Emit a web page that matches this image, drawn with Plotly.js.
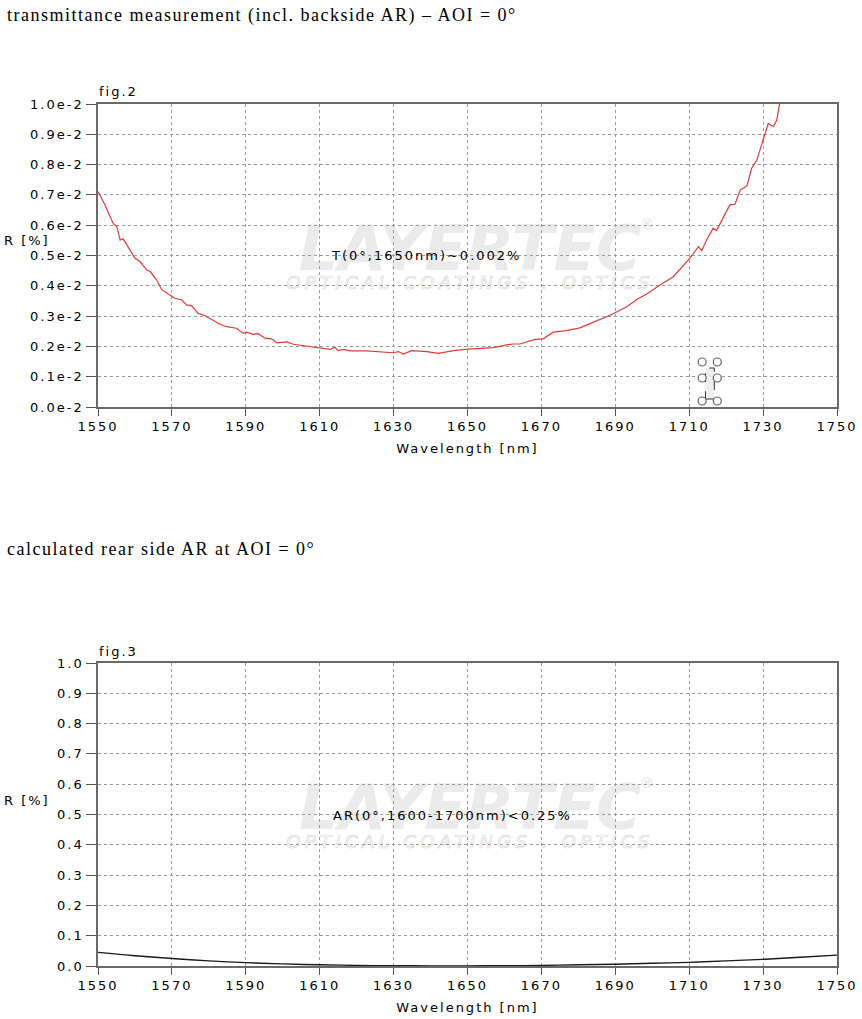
<!DOCTYPE html>
<html>
<head>
<meta charset="utf-8">
<script src="https://cdn.plot.ly/plotly-3.0.1.min.js"></script>
<style>
html,body{margin:0;padding:0;background:#fff;}
#chart{width:862px;height:1019px;}
/* imitates the horizontally stretched lettering of the reference */
svg text[style*="DejaVu"]{letter-spacing:2px;}
svg text[style*="Liberation Serif"]{letter-spacing:1.5px;}
</style>
</head>
<body>
<div id="chart"></div>
<script>
// ---- data ----
const wlT = [1550,1551.9,1554.1,1555.1,1556.0,1556.8,1560.0,1561.4,1563.2,1564.1,1565.9,1567.2,1569.0,1570.8,1572.7,1574.0,1575.4,1577.1,1579.0,1581.2,1583.0,1584.8,1587.5,1589.3,1590.2,1592.0,1593.4,1595.2,1597.0,1598.4,1601.1,1602.9,1606.5,1610.1,1612.8,1614.1,1615.0,1616.4,1618.2,1622.7,1626.3,1629.9,1631.3,1632.6,1634.9,1639.0,1642.1,1646.2,1650.2,1653.4,1657.0,1660.6,1662.4,1664.2,1668.3,1670.5,1673.2,1676.8,1680.4,1684.1,1688.6,1693.1,1695.8,1698.5,1702.1,1705.7,1710.2,1712.5,1713.4,1714.7,1716.5,1717.4,1721.0,1722.4,1723.8,1725.6,1726.9,1728.3,1730.1,1731.4,1732.8,1733.7,1734.4,1735.5];
const valT = [0.00711,0.00667,0.00606,0.00595,0.00551,0.00555,0.00491,0.00480,0.00452,0.00447,0.00419,0.00388,0.00373,0.00359,0.00353,0.00337,0.00334,0.00309,0.00301,0.00285,0.00273,0.00265,0.00260,0.00243,0.00247,0.00240,0.00242,0.00227,0.00225,0.00212,0.00215,0.00207,0.00201,0.00196,0.00190,0.00197,0.00186,0.00190,0.00185,0.00185,0.00182,0.00179,0.00183,0.00175,0.00186,0.00183,0.00177,0.00186,0.00191,0.00194,0.00196,0.00205,0.00208,0.00208,0.00223,0.00225,0.00247,0.00252,0.00261,0.00280,0.00303,0.00331,0.00355,0.00373,0.00403,0.00430,0.00491,0.00529,0.00516,0.00551,0.00590,0.00582,0.00667,0.00669,0.00716,0.00729,0.00788,0.00815,0.00881,0.00936,0.00925,0.00947,0.00997,0.0105];

const wlAR = [1550,1560,1570,1580,1590,1600,1610,1620,1630,1640,1650,1660,1670,1680,1690,1700,1710,1720,1730,1740,1750];
const valAR = [0.045,0.034,0.025,0.017,0.011,0.007,0.004,0.002,0.001,0.0005,0.0005,0.001,0.002,0.004,0.006,0.009,0.012,0.017,0.022,0.029,0.036];

const xTicks = [1550,1570,1590,1610,1630,1650,1670,1690,1710,1730,1750];
const yTicksT = [0,0.001,0.002,0.003,0.004,0.005,0.006,0.007,0.008,0.009,0.010];
const yLabelsT = ["0.0e-2","0.1e-2","0.2e-2","0.3e-2","0.4e-2","0.5e-2","0.6e-2","0.7e-2","0.8e-2","0.9e-2","1.0e-2"];
const yTicksAR = [0,0.1,0.2,0.3,0.4,0.5,0.6,0.7,0.8,0.9,1.0];
const yLabelsAR = ["0.0","0.1","0.2","0.3","0.4","0.5","0.6","0.7","0.8","0.9","1.0"];

const title1 = "transmittance measurement (incl. backside AR) \u2013 AOI = 0\u00b0";
const title2 = "calculated rear side AR at AOI = 0\u00b0";
const noteT = "T(0\u00b0,1650nm)~0.002%";
const noteAR = "AR(0\u00b0,1600-1700nm)<0.25%";

// ---- layout helpers ----
const W = 862, H = 1019;
const px = v => v / W;
const py = v => 1 - v / H;
const sans = "DejaVu Sans, Arial, sans-serif";
const serif = "Liberation Serif, Times New Roman, serif";

function xax(anchor){
  return {anchor:anchor, domain:[px(98), px(837)], range:[1550,1750], tickmode:'array', tickvals:xTicks,
    ticktext:xTicks.map(String), ticks:'outside', ticklen:7, tickcolor:'#555', tickwidth:1,
    showline:true, linecolor:'#6a6a6a', linewidth:1.7, mirror:true, zeroline:false,
    showgrid:true, gridcolor:'#9a9a9a', gridwidth:1, griddash:'dot',
    tickfont:{family:sans, size:13, color:'#000'},
    title:{text:'Wavelength [nm]', font:{family:sans, size:13, color:'#000'}, standoff:10}};
}
function yax(dom, vals, labels, rng){
  return {domain:dom, range:rng, tickmode:'array', tickvals:vals, ticktext:labels, ticks:'outside', ticklen:10,
    tickcolor:'#555', tickwidth:1, showline:true, linecolor:'#6a6a6a', linewidth:1.7, mirror:true,
    zeroline:false, showgrid:true, gridcolor:'#9a9a9a', gridwidth:1, griddash:'dot',
    tickfont:{family:sans, size:13, color:'#000'}};
}

// watermark logo (an image, as in the reference)
const logoSvg = "<svg xmlns='http://www.w3.org/2000/svg' width='380' height='80' viewBox='0 0 380 80'>"
  + "<text x='190' y='54' text-anchor='middle' font-family='DejaVu Sans' font-weight='bold' font-style='italic' font-size='62' fill='#ebebeb'>LAYERTEC</text>"
  + "<text x='360' y='13' font-family='DejaVu Sans' font-size='14' fill='#e2e2e2'>\u00ae</text>"
  + "<text x='190' y='73' text-anchor='middle' font-family='DejaVu Sans' font-style='italic' font-size='18' letter-spacing='4.4' fill='none' stroke='#d8d8d8' stroke-width='0.7'>OPTICAL COATINGS . OPTICS</text>"
  + "</svg>";
const logoSrc = "data:image/svg+xml;charset=utf-8," + encodeURIComponent(logoSvg);

const anns = [];
const images = [];
anns.push({xref:'paper', yref:'paper', x:px(5), y:py(15), xanchor:'left', yanchor:'middle', showarrow:false,
  text:title1, font:{family:serif, size:18, color:'#000'}});
anns.push({xref:'paper', yref:'paper', x:px(5), y:py(549), xanchor:'left', yanchor:'middle', showarrow:false,
  text:title2, font:{family:serif, size:18, color:'#000'}});

[[104,'fig.2',240,noteT,426],[663,'fig.3',800,noteAR,452]].forEach(([top,fig,ry,note,nx])=>{
  images.push({source:logoSrc, xref:'paper', yref:'paper', x:px(280), y:py(top+112), sizex:380/W, sizey:80/H,
    xanchor:'left', yanchor:'top', sizing:'stretch', layer:'below'});
  anns.push({xref:'paper', yref:'paper', x:px(97), y:py(top-12), xanchor:'left', yanchor:'middle', showarrow:false,
    text:fig, font:{family:sans, size:13, color:'#000'}});
  anns.push({xref:'paper', yref:'paper', x:px(2), y:py(ry), xanchor:'left', yanchor:'middle', showarrow:false,
    text:'R [%]', font:{family:sans, size:13, color:'#000'}});
  anns.push({xref:'paper', yref:'paper', x:px(nx), y:py(top+152), xanchor:'center', yanchor:'middle', showarrow:false,
    text:note, font:{family:sans, size:13, color:'#000'}});
});

// selection-handle artefact near 1715 nm in fig.2
const shapes = [];
shapes.push({type:'rect', xref:'x', yref:'y', x0:1714.4, x1:1716.8, y0:0.000264, y1:0.001287,
  fillcolor:'#eeeeee', line:{color:'#333', width:1, dash:'dash'}, layer:'above'});
[[1713.5,0.001485],[1717.6,0.001485],[1713.5,0.000957],[1717.6,0.000957],[1713.5,0.000198],[1717.6,0.000198]].forEach(([cx,cy])=>{
  shapes.push({type:'circle', xref:'x', yref:'y', xsizemode:'pixel', ysizemode:'pixel', xanchor:cx, yanchor:cy,
    x0:-4, x1:4, y0:-4, y1:4, fillcolor:'#ffffff', line:{color:'#5a6474', width:1.2}, layer:'above'});
});

const traces = [
  {x:wlT, y:valT, xaxis:'x', yaxis:'y', mode:'lines', line:{color:'#e23a3a', width:1.2}, hoverinfo:'x+y'},
  {x:wlAR, y:valAR, xaxis:'x2', yaxis:'y2', mode:'lines', line:{color:'#1a1a1a', width:1.4, shape:'spline'}, hoverinfo:'x+y'}
];

const layout = {
  width:W, height:H, margin:{l:0, r:0, t:0, b:0}, showlegend:false,
  paper_bgcolor:'#fff', plot_bgcolor:'rgba(0,0,0,0)',
  xaxis:xax('y'), yaxis:yax([py(407), py(104)], yTicksT, yLabelsT, [0,0.01]),
  xaxis2:xax('y2'), yaxis2:yax([py(966), py(663)], yTicksAR, yLabelsAR, [0,1]),
  annotations:anns, shapes:shapes, images:images
};

Plotly.newPlot('chart', traces, layout, {displayModeBar:false, staticPlot:true});
</script>
</body>
</html>
